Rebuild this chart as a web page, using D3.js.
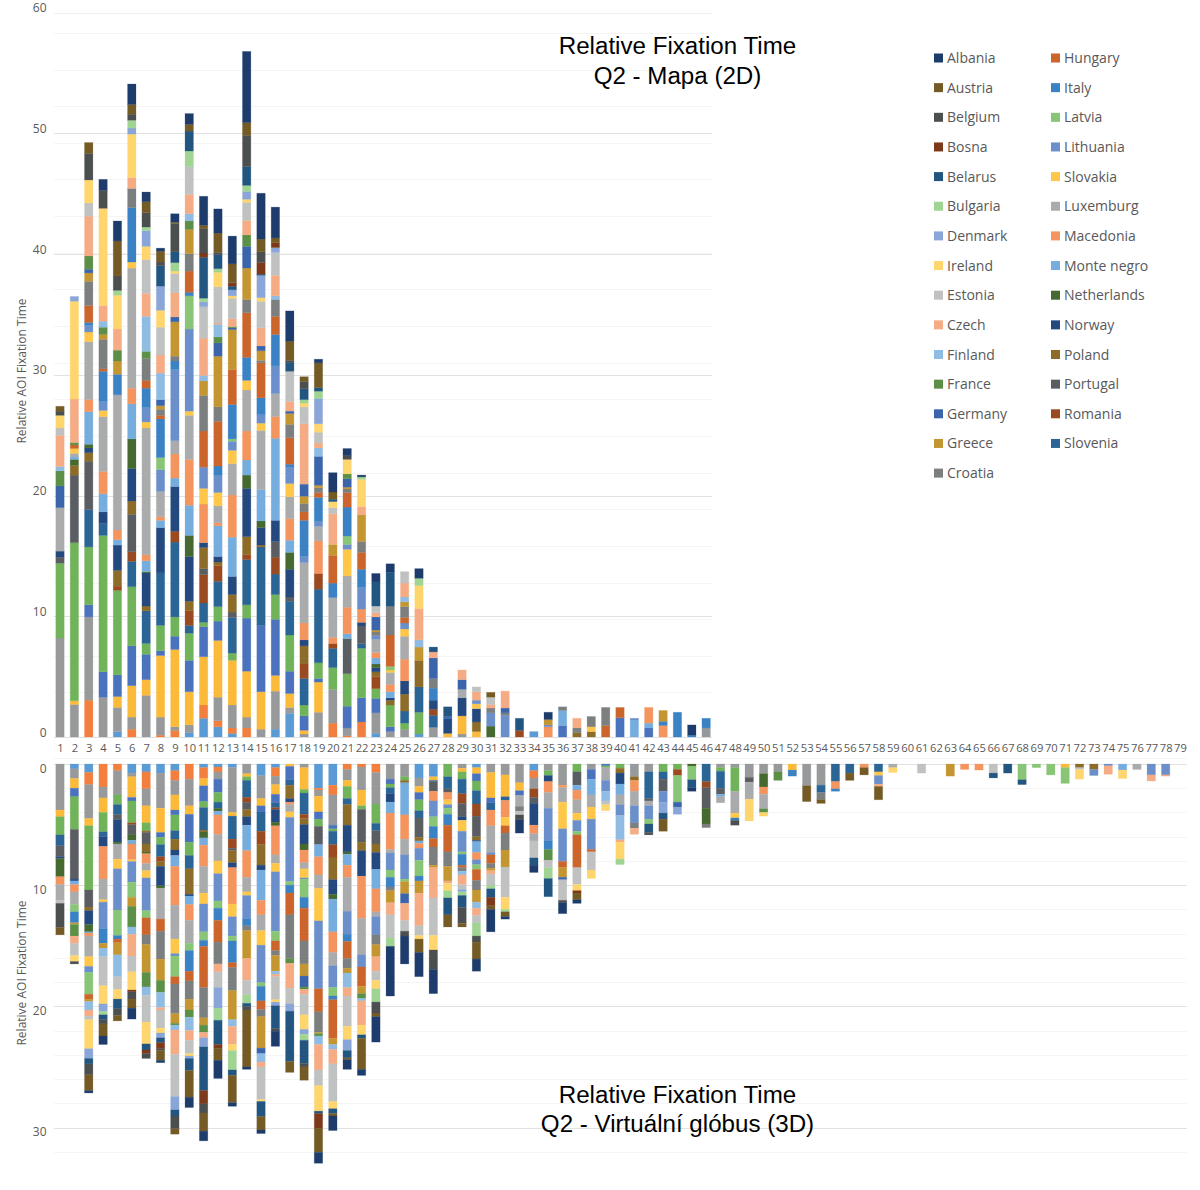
<!DOCTYPE html>
<html><head><meta charset="utf-8">
<script src="https://cdn.jsdelivr.net/npm/d3@7/dist/d3.min.js"></script>
<style>html,body{margin:0;padding:0;background:#fff}svg{display:block}</style></head>
<body><svg id="c" width="1200" height="1190"></svg>
<script>
// stacking order, bottom to top (first six are unlabelled in the legend)
const seriesKeys=["A","B","C","D","E","F","SI","RO","PT","PL","NO","NL","ME","MK","LU","SK","LT","LV","IT","HU","HR","GR","DE","FR","FI","CZ","EE","IE","DK","BG","BY","BA","BE","AT","AL"];
const seriesColors=["#5b9bd5","#f27f3d","#97999a","#fcba3a","#4a72bd","#71b35a","#2a6596","#9a4a20","#5a5e62","#8d6b28","#23497f","#45692f","#75addf","#f4945f","#aaabac","#ffc74a","#6a8fca","#88c576","#3a82c4","#cc652c","#7b7f80","#c49632","#3b65ab","#5c8f47","#8fbce3","#f5ac85","#c0c1c1","#ffd56e","#8aa6d8","#a0d492","#225680","#7d3a1a","#4b4f50","#745a25","#1d3c6b"];
const legendCol1=[["AL","Albania"],["AT","Austria"],["BE","Belgium"],["BA","Bosna"],["BY","Belarus"],["BG","Bulgaria"],["DK","Denmark"],["IE","Ireland"],["EE","Estonia"],["CZ","Czech"],["FI","Finland"],["FR","France"],["DE","Germany"],["GR","Greece"],["HR","Croatia"]];
const legendCol2=[["HU","Hungary"],["IT","Italy"],["LV","Latvia"],["LT","Lithuania"],["SK","Slovakia"],["LU","Luxemburg"],["MK","Macedonia"],["ME","Monte negro"],["NL","Netherlands"],["NO","Norway"],["PL","Poland"],["PT","Portugal"],["RO","Romania"],["SI","Slovenia"]];
const categories=d3.range(1,80);
const topTicks=[0,10,20,30,40,50,60];
const bottomTicks=[0,10,20,30];
const topMinor=[3.7,6.75,9.8,12.8,15.85,18.9,21.9,24.95,28,31,34.05,37.1,40.1,43.15,46.2,49.2,52.25,55.3,58.3];
const bottomMinor=[-0.5,2,4,6,8,12,14,16,18,22,24,26,28,32];
// Q2 - Mapa (2D): one list per participant column, [series, value, ...]
const mapaBars=[
["C",8.2,"F",6.2,"PT",.5,"NO",.5,"LU",3.6,"DE",1.8,"FR",1.25,"FI",.35,"CZ",2.6,"EE",.6,"IE",1.05,"BE",.35,"AT",.4],
["C",2.7,"D",.3,"F",13.1,"PT",5.6,"PL",.8,"NL",.5,"ME",.2,"LU",.3,"SK",.4,"HU",.3,"FR",.2,"CZ",3.6,"IE",8.1,"DK",.4],
["B",3.05,"C",6.9,"E",1,"F",4.8,"SI",3.1,"PT",4,"PL",.7,"NO",.4,"NL",.3,"ME",2.7,"MK",1,"LU",4.8,"SK",.8,"LT",.55,"IT",.25,"HU",1.4,"HR",2,"GR",.7,"DE",.3,"FR",1.1,"CZ",3.3,"EE",1.1,"IE",1.9,"BE",2.2,"AT",.9],
["C",3.3,"E",2.1,"F",11.3,"SI",1,"NO",.95,"ME",1.5,"MK",1.85,"LU",4.55,"SK",.5,"LT",.75,"IT",2.5,"HU",.2,"HR",2.45,"GR",.4,"FR",.6,"FI",.5,"CZ",1.3,"IE",8.05,"BE",1.5,"AL",.9],
["A",.45,"C",2,"D",.9,"E",1.8,"F",7,"RO",.35,"PL",1.3,"NO",2.1,"ME",.45,"MK",.8,"LU",11.2,"IT",1.7,"GR",1.1,"FR",.9,"CZ",1.75,"IE",2.8,"BG",.4,"BE",1.2,"AT",2.9,"AL",1.65],
["B",.65,"C",1,"D",2.6,"E",3.3,"F",4.9,"SI",2.1,"RO",.8,"PT",3.1,"PL",1.1,"NO",2.7,"NL",2.45,"ME",2.9,"MK",1.3,"LU",9.95,"SK",.5,"IT",4.5,"HR",1.6,"CZ",.9,"IE",3.6,"DK",.5,"BG",.65,"BE",.5,"AT",.8,"AL",1.7],
["C",3.45,"D",1.3,"E",2.1,"F",.9,"SI",2.7,"PL",.4,"NO",2.75,"NL",.1,"ME",.9,"MK",.5,"LU",10.5,"SK",.5,"LT",1.2,"IT",1.6,"HU",.65,"HR",1.8,"FR",.6,"FI",2.9,"CZ",1.9,"EE",2.8,"IE",1.1,"DK",1.3,"BG",.3,"BE",1.2,"AT",.9,"AL",.8],
["B",.15,"C",1.5,"D",5.1,"E",.4,"F",2.1,"SI",4.35,"NO",3.75,"ME",.6,"MK",.3,"LU",2.1,"LT",1.8,"LV",1,"IT",3.2,"HU",.3,"HR",.5,"GR",.3,"DE",.5,"FI",2.2,"CZ",1.5,"EE",2.3,"IE",1.4,"DK",2,"BY",1.7,"BE",.3,"AT",.9,"AL",.25],
["B",.55,"C",.3,"D",6.4,"E",1.1,"F",1.6,"SI",6.2,"RO",.9,"NO",3.7,"ME",.7,"MK",2,"LU",1.1,"LT",5.9,"IT",.7,"HR",.4,"GR",2.85,"DE",.4,"CZ",2,"EE",1.6,"IE",.2,"BG",.7,"BY",.9,"BE",2.35,"AT",.1,"AL",.7],
["A",.35,"C",.65,"D",2.75,"E",2.6,"F",2.25,"SI",.65,"RO",1.2,"PL",.8,"NO",3.7,"NL",1.75,"ME",2.5,"MK",3.8,"LU",3.65,"SK",.35,"LT",6.8,"LV",2.75,"IT",.3,"HU",1.75,"HR",1.45,"GR",2,"FR",.7,"FI",.6,"CZ",1.6,"EE",2.3,"BG",1.3,"BY",1.65,"AT",.55,"AL",.9],
["A",1.55,"B",1.1,"D",4,"E",2.5,"F",.35,"SI",1.6,"RO",2.35,"PT",.5,"PL",1.75,"NO",.4,"MK",3.2,"SK",1.3,"LT",1.75,"HU",3,"HR",2.95,"GR",1.2,"FI",.45,"CZ",3.1,"EE",2.6,"DK",.4,"BG",.3,"BY",3.4,"BA",.35,"BE",2,"AT",.3,"AL",2.4],
["A",.85,"B",.5,"C",1.95,"D",4.7,"E",1.6,"F",1.2,"SI",2.1,"RO",1.3,"PL",.3,"NO",.45,"ME",2.55,"MK",.25,"LU",1.4,"SK",1.1,"LT",1.45,"IT",.75,"HU",3.7,"HR",1.2,"GR",4.2,"DE",1.1,"FR",.5,"FI",1.05,"CZ",.1,"EE",3,"IE",1.2,"BG",.3,"BY",1.15,"BE",.2,"AT",1.6,"AL",2],
["A",.3,"B",.45,"C",1.9,"D",3.7,"F",.6,"SI",2.95,"PT",.45,"PL",1.45,"NO",1.5,"ME",3.25,"MK",3.5,"LU",2.6,"SK",1.1,"LT",.75,"LV",.2,"IT",2.85,"HU",2.9,"GR",3.3,"DE",.15,"FR",.1,"CZ",.65,"EE",1.7,"IE",.2,"DK",.5,"BY",.3,"BA",.3,"AT",1.55,"AL",2.3],
["B",.75,"C",.9,"D",3.8,"E",4.4,"F",1.1,"SI",3.75,"RO",.4,"PL",1.5,"NO",4,"NL",1.1,"ME",1.25,"MK",2.4,"LU",3.4,"SK",.8,"IT",1.9,"HU",3.7,"HR",1.1,"GR",2.6,"DE",1.8,"FR",.95,"CZ",1.2,"EE",1.5,"IE",.25,"DK",.65,"BG",.5,"BY",1.55,"BE",2.6,"AT",1.05,"AL",5.9],
["C",.65,"D",3.1,"E",5.5,"SI",6.5,"PL",.15,"NO",1.45,"NL",.55,"ME",2.6,"LU",4.9,"SK",.6,"LT",.7,"IT",1.4,"HU",2.9,"HR",.2,"GR",.8,"DE",.4,"CZ",1.5,"EE",2.2,"IE",.3,"DK",1.85,"BY",.1,"BA",.95,"BE",.9,"AT",1.05,"AL",3.8],
["A",.65,"C",3.15,"D",1.3,"E",4.65,"F",2.05,"SI",1.7,"RO",1.4,"PT",1.3,"NO",1.75,"ME",6.8,"MK",1.8,"LU",1.9,"LT",2.3,"IT",2.6,"HU",1.5,"HR",1.4,"FI",.3,"CZ",1.7,"EE",1.9,"DK",.4,"BA",.4,"AT",.4,"AL",2.55],
["A",1.95,"C",.5,"D",1.15,"E",1.85,"F",3,"SI",2.8,"PT",.35,"NO",2.3,"NL",1.4,"ME",1,"MK",1.8,"LU",1.8,"SK",1.1,"LT",1.35,"IT",.25,"HU",2.2,"HR",1.1,"GR",.9,"DE",.2,"CZ",.8,"EE",2.5,"BY",.75,"BE",.15,"AT",1.6,"AL",2.5],
["C",.25,"D",.3,"E",1.2,"F",.9,"SI",2.2,"RO",1.2,"PL",1.5,"NO",.5,"MK",1.4,"LU",5,"LT",.5,"IT",3,"HU",.7,"HR",.7,"GR",.6,"DE",1,"CZ",5,"EE",1.4,"IE",.3,"BG",.3,"BY",.9,"BE",.6,"AT",.4],
["C",2.05,"D",2.5,"E",.3,"F",1.3,"SI",6.1,"RO",1.3,"MK",2.7,"LU",1.2,"LT",.4,"IT",2,"HU",.4,"HR",.4,"GR",.2,"DE",2.4,"FI",.7,"CZ",.4,"EE",.9,"IE",.7,"DK",2.1,"BG",.6,"BY",.3,"AT",2.05,"AL",.3],
["B",1.15,"C",2.8,"F",1.8,"SI",1.6,"RO",.4,"MK",.5,"LU",3.3,"IT",1.2,"HU",2.3,"GR",.9,"CZ",2.55,"EE",.5,"IE",.5,"BY",.2,"AT",.6,"AL",1.6],
["B",.1,"C",.65,"E",1.8,"F",2.7,"PT",2.9,"ME",.4,"MK",2.2,"LU",2.6,"SK",2.2,"LT",.4,"LV",.7,"IT",2.4,"HU",1.2,"HR",.3,"GR",.15,"DE",.7,"FR",.4,"IE",1.2,"BE",.3,"AL",.6],
["B",1.25,"E",2,"F",4.1,"SI",.4,"PT",1.45,"NO",.3,"MK",1.1,"LT",1.8,"IT",1.5,"HU",1.4,"HR",.9,"GR",2.2,"CZ",.7,"IE",2.25,"BG",.2,"AL",.15],
["A",.3,"C",1.7,"E",1.2,"F",.8,"RO",1,"PL",.4,"NO",.35,"NL",.3,"ME",.5,"MK",.45,"LU",1.1,"LT",.3,"HR",.3,"GR",.15,"DE",1.1,"CZ",.35,"EE",.55,"BY",2,"AL",.7],
["C",.45,"E",.4,"F",1.8,"PL",.4,"NO",.2,"ME",.5,"MK",.6,"LU",1,"SK",.2,"LV",.3,"HU",2.6,"HR",2.4,"BY",2.8,"AL",.7],
["C",.65,"F",.5,"SI",1,"PL",1.4,"NO",1.1,"MK",1.8,"LU",1.9,"SK",.6,"LT",.5,"HU",.45,"HR",.9,"GR",.4,"FI",.4,"CZ",1.15,"EE",.95],
["A",.25,"F",1.8,"SI",2.1,"PL",2.2,"GR",1.1,"FI",.6,"CZ",2.6,"IE",1.9,"BG",.6,"AL",.8],
["C",.8,"SI",1,"RO",.5,"NO",.75,"IT",1,"HR",.8,"DE",1.7,"CZ",.5,"BY",.4],
["D",.3,"NO",1.2,"DE",.2,"BY",.8],
["C",.25,"D",1.5,"NO",1.5,"LU",.7,"DE",.8,"CZ",.8],
["D",.45,"PL",.8,"NO",1.1,"SK",.4,"LT",.3,"CZ",.7,"EE",.4],
["NL",.9,"LT",1.1,"HR",.4,"CZ",.3,"EE",.6,"AT",.4],
["LT",1.8,"HR",.2,"DE",.4,"CZ",1.4],
["RO",.55,"BY",1],
["A",.45],
["LT",.15,"MK",.85,"GR",.45,"AL",.6],
["E",.95,"ME",1.25,"HR",.3],
["PL",.35,"HR",.4,"CZ",.8],
["PL",.45,"SK",.4,"HR",.85],
["HU",.95,"HR",1.5],
["E",1.6,"HU",.85],
["LT",.15,"ME",1.4],
["E",.75,"ME",.4,"MK",1.3],
["MK",.95,"IT",.35,"GR",.9],
["IT",2.05],
["IT",.15,"AL",.85],
["C",.75,"IT",.8]
];
// Q2 - Virtuální glóbus (3D)
const globusBars=[
["C",3.8,"D",.55,"F",1.5,"SI",.9,"PT",.9,"LU",1.3,"NO",.15,"NL",1.5,"MK",.65,"EE",.25,"BE",2,"AT",.6],
["A",.4,"C",.8,"D",.8,"E",.7,"F",2.7,"PT",4.1,"NO",.15,"MK",.6,"LU",1.05,"LV",.6,"IT",.9,"GR",.15,"FR",.95,"ME",.3,"CZ",.6,"EE",1,"IE",.5,"BE",.2],
["A",.7,"B",1,"C",2.8,"D",.6,"F",5.3,"PT",1.4,"PL",.3,"NO",1.15,"NL",.6,"ME",.1,"MK",.25,"LU",1.7,"SK",.8,"LT",.5,"LV",1.8,"HU",.4,"GR",.2,"FI",.7,"CZ",.5,"EE",.3,"IE",2.4,"DK",.8,"BY",.45,"BE",.9,"AT",1.3,"AL",.2],
["B",1.9,"C",.9,"D",1.2,"F",1.6,"SI",.4,"NO",.8,"MK",2.7,"LU",1.7,"SK",.2,"LT",2.2,"IT",1.2,"GR",.4,"FI",.7,"EE",2.4,"IE",1.5,"DK",.6,"BG",.3,"BY",.4,"BE",.35,"AT",1,"AL",.7],
["B",.55,"C",2,"F",.8,"SI",.8,"PT",.45,"NO",1.85,"NL",.15,"LU",1.25,"SK",.8,"LT",3.4,"LV",2.1,"IT",.3,"HU",.3,"GR",1,"FI",1.8,"EE",1.05,"IE",.8,"BY",.8,"BE",.55,"AT",.45],
["A",.75,"C",.3,"D",1.7,"E",.3,"F",1.8,"RO",.15,"PT",.85,"NL",.45,"ME",.3,"MK",1.3,"SK",.15,"LT",1.7,"LV",1.25,"GR",.75,"FR",1.7,"FI",.6,"CZ",1.8,"EE",1.3,"IE",1.5,"BA",.15,"BE",.6,"AT",.75,"AL",.9],
["A",.65,"B",1.4,"C",1.4,"D",1.4,"F",.7,"RO",.1,"PT",.95,"PL",.65,"NL",.15,"MK",.8,"LU",.6,"SK",.6,"LT",2.7,"LV",.6,"HU",1.4,"HR",.8,"GR",2.3,"FR",1.2,"FI",.7,"EE",2.2,"IE",1.8,"BY",.5,"BA",.3,"BE",.4],
["A",.75,"C",2.9,"D",2,"E",.4,"F",.6,"SI",1,"RO",.4,"PL",.4,"NO",1.6,"NL",.2,"LU",2.55,"HU",1,"HR",2.3,"GR",1.75,"FR",1,"FI",1.25,"CZ",.2,"EE",1.5,"IE",.4,"DK",.4,"BY",.4,"BA",.5,"BE",.15,"AT",.8,"AL",.2],
["A",.55,"B",.8,"C",1.2,"D",1.25,"E",.4,"F",1.3,"SI",.7,"PL",.9,"NO",.45,"ME",.9,"MK",3.2,"LU",2.8,"SK",1.2,"LT",.2,"LV",1.7,"HU",.6,"HR",2.45,"GR",.8,"FR",.15,"FI",.4,"CZ",2,"EE",3.5,"DK",1.1,"BY",.5,"BE",1.05,"AT",.45],
["B",1.25,"C",2.2,"D",.7,"E",2.3,"F",1.1,"SI",1.1,"PL",2.1,"NO",.15,"ME",.7,"MK",1.3,"LU",1.9,"LV",.6,"IT",1.7,"HU",.8,"HR",1.5,"GR",.9,"FR",.6,"FI",1.1,"CZ",.8,"EE",1.1,"IE",.2,"DK",.2,"BY",1,"AT",2.2,"AL",.85],
["A",.3,"B",.9,"D",.6,"E",1.3,"F",.5,"SI",1.85,"PL",.15,"NL",.5,"ME",.6,"MK",1.75,"LU",2.2,"SK",.9,"LT",2.3,"LV",.7,"IT",.5,"HU",3.4,"HR",2.5,"GR",.6,"FR",.6,"CZ",.45,"DK",.75,"BY",3.6,"BA",1.1,"BE",.75,"AT",1.5,"AL",.8],
["A",.25,"B",.4,"C",.6,"E",1.1,"F",.8,"SI",.5,"NL",.25,"ME",.3,"MK",1.6,"LU",2.2,"SK",1.05,"LT",2.25,"LV",.6,"IT",1,"HU",1.8,"HR",1.8,"CZ",.65,"EE",1.3,"DK",1.7,"BG",1,"BY",2,"BA",.3,"AT",1,"AL",1.5],
["A",.3,"C",3.7,"D",.3,"SI",1.9,"RO",.75,"PT",.2,"PL",1,"NO",.4,"MK",3,"SK",1.05,"LT",1.6,"LV",.4,"IT",1.8,"HU",.4,"HR",1.9,"GR",2.4,"FI",.55,"CZ",1.5,"IE",.5,"BG",1.6,"BY",.45,"AT",2.25,"AL",.3],
["C",.8,"D",.25,"F",.3,"SI",1.4,"RO",.4,"PT",.6,"PL",.6,"NO",.7,"ME",2.1,"MK",2.2,"LU",1.2,"SK",.3,"LT",1.9,"IT",.6,"HR",.4,"GR",2.3,"CZ",1.8,"EE",1.2,"BG",.7,"BY",.25,"BE",.3,"AT",4.7,"AL",.2],
["A",.95,"C",1.9,"D",.6,"E",.5,"SI",1.6,"RO",1.1,"PL",1.7,"NO",.4,"ME",2.5,"MK",1.2,"LU",1.3,"SK",1.2,"LT",3.1,"LV",.3,"IT",1.2,"HU",.7,"HR",.6,"GR",2.6,"DE",.45,"FI",.7,"CZ",.4,"EE",2.7,"IE",.15,"BY",1.25,"AT",1.1,"AL",.3],
["A",.3,"B",.7,"C",.7,"D",.8,"E",.7,"SI",.4,"RO",.15,"NO",1.05,"NL",.3,"MK",2.4,"LU",.7,"SK",.7,"LT",4.9,"LV",.8,"HU",.8,"HR",.4,"GR",1.3,"FI",.25,"CZ",.2,"EE",1.9,"IE",.2,"DK",.3,"BY",1.9,"BE",.2,"AL",1.25],
["D",.2,"E",1.1,"SI",.45,"PL",1.1,"NO",.3,"MK",.2,"LU",.6,"SK",.45,"LT",5.3,"LV",.3,"IT",.65,"HU",1.8,"HR",3.6,"FR",.4,"CZ",2.05,"EE",1.3,"DK",.6,"BY",4.15,"AT",.9],
["C",.3,"D",1.8,"F",.3,"SI",1.75,"RO",.35,"PL",.5,"NO",1.6,"NL",.5,"MK",1.05,"LU",.5,"SK",.75,"LT",.1,"LV",1.5,"IT",.9,"HU",2.7,"HR",1.9,"GR",1,"DE",.9,"FR",.2,"CZ",.4,"EE",1.7,"IE",1.2,"DK",.4,"BG",.5,"BY",1.9,"BE",.3,"AT",1.1],
["A",2,"B",.15,"C",.5,"D",1.3,"E",.6,"F",.6,"PT",1.5,"ME",1,"MK",1.5,"LU",1.1,"SK",2.7,"LT",5.6,"HU",1.9,"HR",1.7,"GR",.1,"FR",.2,"FI",.7,"CZ",2.1,"EE",1.3,"IE",2.1,"BY",.2,"BA",1.2,"AT",2,"AL",.9],
["A",1.75,"B",.8,"C",2.5,"E",.3,"F",.2,"SI",1.1,"RO",1.1,"PL",1.8,"NO",1.2,"NL",.4,"ME",2.7,"MK",1.7,"LU",1.1,"LT",1.8,"LV",.7,"IT",.3,"HU",3.2,"GR",.5,"FI",.4,"CZ",1.2,"EE",3.1,"IE",.6,"BY",.4,"AT",.2,"AL",1.2],
["B",.45,"C",.9,"D",.5,"F",1,"SI",.5,"PL",1.7,"NO",2.2,"NL",.2,"ME",.9,"MK",1,"LU",2.8,"LT",1.9,"IT",.6,"HU",1.4,"HR",.8,"GR",.4,"FI",1.2,"CZ",.7,"EE",2.5,"IE",1.1,"DK",.9,"BY",.6,"AT",.15,"AL",.8],
["B",.25,"C",1.9,"D",1.3,"F",.3,"PT",2.7,"PL",.7,"NO",2.1,"MK",3.5,"LU",3,"LT",1,"HU",1.6,"GR",.6,"FR",.4,"FI",.2,"CZ",2,"IE",.8,"BY",.3,"AT",2.55,"AL",.5],
["B",.7,"C",2.6,"F",1.6,"SI",.6,"PT",1.1,"PL",.7,"NO",1.4,"ME",1.6,"MK",1.9,"LU",.4,"LT",1.5,"HR",.8,"GR",1,"CZ",1.2,"EE",.75,"IE",.7,"BG",1.1,"BE",.9,"AT",.3,"AL",2.1],
["C",1.25,"E",.4,"F",.3,"SI",.5,"NO",.7,"ME",.9,"MK",3,"LU",.3,"LT",1.4,"LV",.6,"IT",.8,"HR",.3,"GR",1,"CZ",1,"EE",1.9,"BG",.7,"AL",4.1],
["C",1.05,"F",.3,"PL",.2,"ME",2.65,"MK",2,"LU",1.3,"LT",2,"LV",.2,"GR",1,"DE",.8,"CZ",1.4,"EE",.9,"BE",.4,"AL",2.3],
["A",1.15,"C",.7,"D",.5,"E",.6,"F",.9,"SI",.6,"PT",1.6,"PL",.3,"ME",.2,"MK",.4,"LT",1,"LV",1.3,"IT",.4,"GR",1,"CZ",2.7,"EE",.8,"IE",.3,"AT",1.1,"AL",2],
["A",1.05,"D",.3,"SI",.1,"PT",.8,"MK",.8,"LT",1.3,"LV",.8,"IT",1,"HU",.7,"HR",1.5,"GR",.2,"CZ",2.5,"EE",3.1,"IE",1.2,"BE",1.6,"AL",2],
["F",1.05,"SI",1,"PT",.3,"MK",.6,"SK",.4,"LT",.3,"LV",.5,"IT",.9,"HU",2.2,"HR",1.2,"GR",1.2,"CZ",.2,"IE",.6,"BG",.6,"BY",1.4,"AT",1],
["C",.35,"D",.3,"F",.6,"SI",1.2,"RO",.8,"PT",1.1,"NO",.3,"SK",.9,"LT",1.7,"LV",.2,"IT",.9,"HU",.2,"HR",.3,"FI",.3,"CZ",.8,"EE",.4,"DK",.2,"BG",.3,"BY",1,"BE",1.3,"AT",.3],
["A",.3,"D",.5,"E",.6,"F",.8,"SI",1.1,"RO",1,"PT",1.7,"PL",.3,"NO",.1,"ME",.9,"MK",.6,"LT",.4,"LV",.4,"HU",.9,"HR",.8,"GR",1,"FI",.5,"CZ",.6,"EE",.6,"BG",1.1,"BE",.5,"AT",1.4,"AL",1],
["C",.7,"D",2.1,"E",.4,"SI",.6,"MK",1.3,"LU",2.2,"LT",.2,"HU",.7,"HR",.4,"GR",.2,"CZ",.3,"EE",.9,"BG",.3,"BY",.7,"BA",.7,"AT",.3,"AL",1.85],
["C",.9,"D",1.8,"SI",.3,"MK",1.4,"SK",.7,"HU",.6,"HR",1.4,"GR",1.4,"EE",2.5,"IE",1,"BG",.2,"AT",.4,"AL",.2],
["C",1.55,"D",.65,"E",.4,"LU",.9,"HR",.4,"EE",.3,"BE",.4,"AL",1.1],
["A",.55,"B",.6,"C",.9,"RO",.7,"PT",.5,"NO",1.8,"MK",.7,"LU",.6,"EE",1.4,"BY",.6,"AL",.6],
["C",.55,"F",.4,"NO",.5,"MK",.9,"LU",1.3,"LT",2.7,"IT",.7,"FR",.9,"EE",.6,"BG",.9,"BY",1.5],
["C",1.75,"MK",.2,"LU",1.2,"SK",2.2,"LT",2.7,"HU",.5,"GR",.8,"DE",.2,"EE",1.7,"BE",.2,"AL",.9],
["F",.65,"PT",1.1,"ME",.4,"MK",.8,"LU",1.1,"SK",.6,"LT",.9,"LV",.3,"HU",2.7,"EE",1.4,"IE",.5,"BA",.2,"AT",.55,"AL",.3],
["C",.45,"E",.8,"ME",1.3,"LU",1,"SK",1,"LT",2.5,"HU",.2,"EE",1.5,"IE",.7],
["E",.15,"F",.15,"LU",1.05,"LT",.9,"FI",.8,"EE",.3,"IE",.5],
["F",.35,"PL",.4,"NO",.9,"ME",.9,"LU",.8,"LT",.9,"FI",2,"CZ",.2,"IE",1.4,"BG",.45],
["C",1.05,"PL",.3,"MK",.9,"LU",1.2,"LT",1.4,"HR",.45,"CZ",.5],
["C",.65,"SI",2.2,"PT",.2,"LU",.4,"LT",1.1,"LV",.4,"BY",.7,"BE",.2],
["F",.65,"SI",.6,"PT",1,"LT",.9,"DK",.9,"BY",.5,"AT",1],
["F",.45,"RO",.5,"LV",2.2,"DE",.4,"DK",.6],
["NL",.2,"LV",1.1,"BY",.65,"AL",.3],
["SI",1.45,"RO",.5,"PT",1.7,"NL",1.3,"HR",.3],
["C",.3,"F",.3,"SI",1.4,"PT",.5,"ME",.2,"LU",.5],
["C",.3,"F",1.95,"LU",1.8,"IT",.2,"SK",.4,"BE",.4],
["C",1.1,"PT",.4,"LU",1.4,"IE",1.8],
["C",.8,"NL",1.1,"MK",.6,"LU",1.2,"FR",.3,"IE",.3],
["C",.65,"FR",.7],
["D",.5,"IT",.5],
["C",1.8,"AT",1.3],
["C",1.75,"SI",.6,"HR",.6,"AT",.3],
["SI",1.45,"MK",.6,"IT",.2],
["SI",.75,"AT",.6],
["MK",.3,"AT",.6],
["SI",.65,"SK",.3,"LT",.7,"CZ",.2,"AT",1.1],
["LU",.3,"IE",.4],
[],
["EE",.75],
[],
["GR",1],
["MK",.45],
["MK",.5],
["EE",.75,"BY",.4],
["BY",.75],
["LV",1.3,"BY",.4],
["LV",.3],
["LV",.9],
["D",.3,"LV",1.3],
["EE",.15,"PL",.3,"IE",.8],
["PL",.45,"LT",.5],
["LT",.15,"CZ",.7],
["ME",.5,"IE",.7],
["LU",.45],
["LT",.9,"CZ",.5],
["LT",.9,"CZ",.1],
[]
];

const svg=d3.select("#c");
const font="'Open Sans',sans-serif", tc="#595959";
const color=d3.scaleOrdinal(seriesKeys,seriesColors);
const x=d3.scalePoint(categories,[60,1180]);
const yTop=d3.scaleLinear([0,60],[737,12.8]);
const yBot=d3.scaleLinear([0,30],[764,1127.5]);
const toTable=bars=>bars.map((b,i)=>{const r={cat:categories[i]};seriesKeys.forEach(k=>r[k]=0);for(let j=0;j<b.length;j+=2)r[b[j]]=b[j+1];return r;});
const pad=rows=>{while(rows.length<categories.length)rows.push([]);return rows;};
const stack=d3.stack().keys(seriesKeys);
const grid=svg.append("g");
function lines(vals,y,xe,col){grid.selectAll(null).data(vals).join("line").attr("x1",54).attr("x2",xe).attr("y1",d=>Math.round(y(d))+.5).attr("y2",d=>Math.round(y(d))+.5).attr("stroke",col).attr("stroke-width",1);}
lines(topMinor,yTop,712,"#f5f5f5");
lines(bottomMinor,yBot,1187,"#f5f5f5");
lines(topTicks.slice(0,6),yTop,712,"#e2e2e2");
lines([60],yTop,712,"#f0f0f0");
lines(bottomTicks,yBot,1187,"#e2e2e2");
function bars(rows,y){
  const g=svg.append("g");
  stack(toTable(pad(rows.slice()))).forEach(s=>{
    g.append("g").selectAll("rect").data(s.filter(d=>d[1]>d[0])).join("rect")
     .attr("x",d=>x(d.data.cat)-4.2).attr("width",8.4)
     .attr("y",d=>Math.min(y(d[0]),y(d[1]))).attr("height",d=>Math.abs(y(d[1])-y(d[0])))
     .attr("fill",color(s.key)).attr("stroke",color(s.key)).attr("stroke-opacity",.28).attr("stroke-width",.8);
  });
}
bars(mapaBars,yTop);
bars(globusBars,yBot);
function styleAxis(size){return g=>{g.select(".domain").remove();g.selectAll(".tick line").remove();g.selectAll("text").attr("font-family",font).attr("font-size",size).attr("fill",tc);};}
svg.append("g").attr("transform","translate(46.5,0)").call(d3.axisLeft(yTop).tickValues(topTicks).tickSize(0).tickPadding(0)).call(styleAxis(12)).selectAll("text").attr("dy","-0.08em");
svg.append("g").attr("transform","translate(46.5,0)").call(d3.axisLeft(yBot).tickValues(bottomTicks).tickSize(0).tickPadding(0)).call(styleAxis(12)).selectAll("text").attr("dy","0.68em");
svg.append("g").attr("transform","translate(0,744.5)").call(d3.axisBottom(x).tickSize(0).tickPadding(0)).call(styleAxis(11.2));
const yt=[[371,"Relative AOI Fixation Time"],[973,"Relative AOI Fixation Time"]];
svg.selectAll(".yt").data(yt).join("text").attr("transform",d=>`translate(26,${d[0]}) rotate(-90)`).attr("text-anchor","middle").attr("font-family",font).attr("font-size",12).attr("fill",tc).text(d=>d[1]);
const titles=[[54,"Relative Fixation Time"],[84,"Q2 - Mapa (2D)"],[1103,"Relative Fixation Time"],[1132,"Q2 - Virtuální glóbus (3D)"]];
svg.selectAll(".tt").data(titles).join("text").attr("x",677.5).attr("y",d=>d[0]).attr("text-anchor","middle").attr("font-family","'Liberation Sans',Arial,sans-serif").attr("font-size",24.15).attr("fill","#000").text(d=>d[1]);
function legend(items,xs){
  const g=svg.append("g").selectAll("g").data(items).join("g").attr("transform",(d,i)=>`translate(${xs},${58+i*29.65})`);
  g.append("rect").attr("x",0).attr("y",-4.5).attr("width",9).attr("height",9).attr("fill",d=>color(d[0]));
  g.append("text").attr("x",13).attr("y",5).attr("font-family",font).attr("font-size",14).attr("fill",tc).text(d=>d[1]);
}
legend(legendCol1,934);legend(legendCol2,1051);
</script></body></html>
